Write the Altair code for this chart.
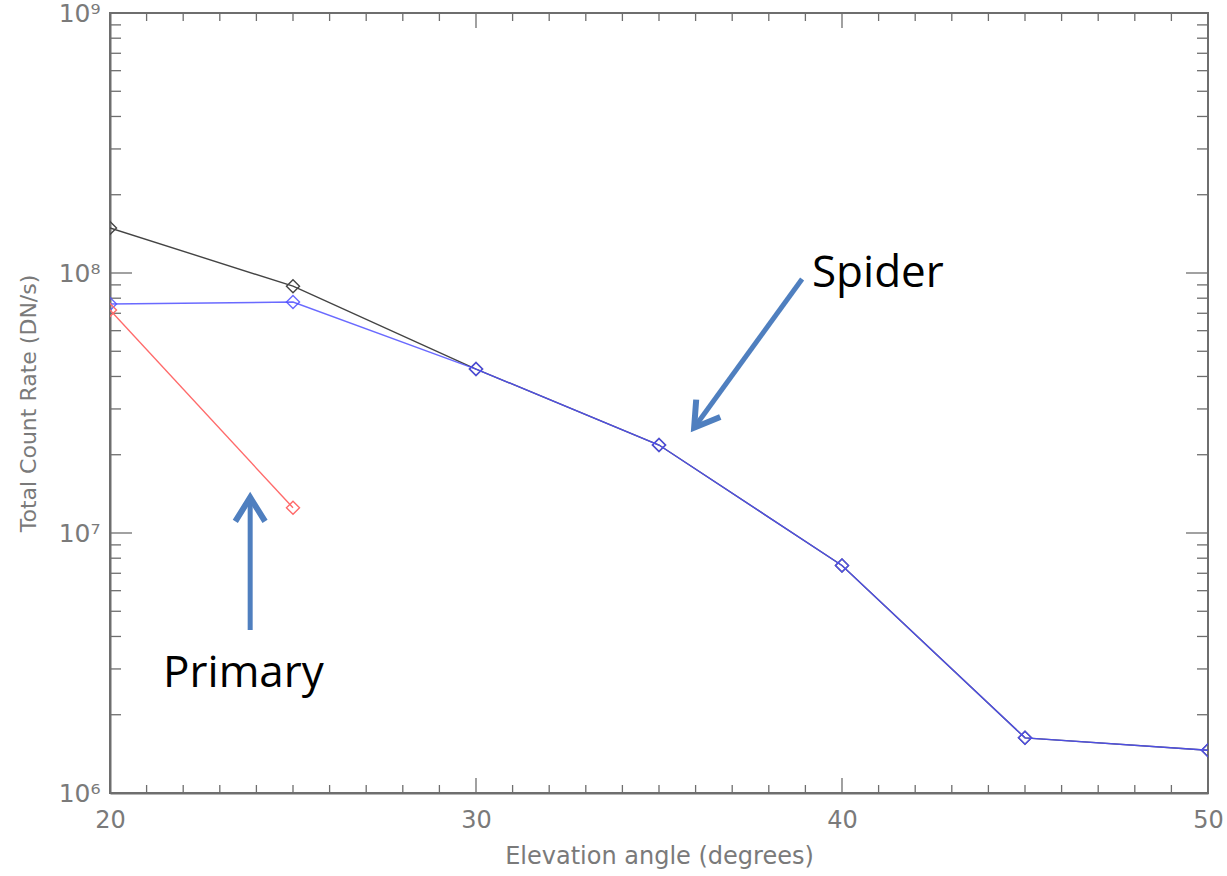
import altair as alt
import pandas as pd

# Count rate versus elevation angle
angles = [20, 25, 30, 35, 40, 45, 50]
total_rate = [1.49e8, 8.9e7, 4.27e7, 2.18e7, 7.5e6, 1.63e6, 1.46e6]
spider_rate = [7.6e7, 7.73e7, 4.27e7, 2.18e7, 7.5e6, 1.63e6, 1.46e6]
primary_angles = [20, 25]
primary_rate = [7.2e7, 1.25e7]

# Axis tick positions
x_major = [20, 30, 40, 50]
x_minor = [a for a in range(21, 50) if a % 10 != 0]
y_major = [1e6, 1e7, 1e8, 1e9]
y_minor = [k * 10.0 ** n for n in (6, 7, 8) for k in range(2, 10)]

# Annotation arrows and labels
arrow_shafts = pd.DataFrame({
    "angle": [23.83, 38.91], "rate": [4.24e6, 9.48e7],
    "angle2": [23.83, 35.96], "rate2": [1.37e7, 2.54e7],
})
arrow_heads = pd.DataFrame({"angle": [23.83, 35.96], "rate": [1.37e7, 2.54e7], "dir": [0, 216]})
notes = pd.DataFrame({"angle": [39.18, 21.45], "rate": [8.84e7, 2.56e6], "text": ["Spider", "Primary"]})

W, H = 1098, 780
AXIS_GREY = "#6e6e6e"
TEXT_GREY = "#7a7a7a"
FONT = "DejaVu Sans"

xscale = alt.Scale(domain=[20, 50], nice=False, zero=False)
yscale = alt.Scale(type="log", domain=[1e6, 1e9], nice=False)

x_axis = alt.Axis(values=x_major, ticks=False, grid=False, format="d",
                  title="Elevation angle (degrees)", labelFontSize=24,
                  labelPadding=15, titleFontSize=24, titlePadding=12,
                  labelFlush=False)
y_axis = alt.Axis(values=y_major, ticks=False, grid=False,
                  labelExpr="'10' + ['⁰','¹','²','³','⁴','⁵','⁶','⁷','⁸','⁹'][round(log(datum.value)/LN10)]",
                  title="Total Count Rate (DN/s)", labelFontSize=25,
                  labelPadding=10, titleFontSize=22, titlePadding=18,
                  labelFlush=False)


def X(field="angle"):
    return alt.X(f"{field}:Q", scale=xscale, axis=x_axis)


def Y(field="rate"):
    return alt.Y(f"{field}:Q", scale=yscale, axis=y_axis)


def series(xs, ys, color, opacity=1.0):
    df = pd.DataFrame({"angle": xs, "rate": ys})
    return alt.Chart(df).mark_line(
        color=color, strokeWidth=1.4, opacity=opacity, clip=True,
        point=alt.OverlayMarkDef(shape="diamond", filled=False, size=170,
                                 strokeWidth=1.4, color=color, opacity=opacity),
    ).encode(x=X(), y=Y())


total_line = series(angles, total_rate, "#444444")
spider_line = series(angles, spider_rate, "#5050ff", 0.85)
primary_line = series(primary_angles, primary_rate, "#ff6a6a")


def xticks(values, length):
    df = pd.DataFrame({"angle": values})
    bottom = alt.Chart(df).mark_rule(color=AXIS_GREY, strokeWidth=1.3).encode(
        x=X(), y=alt.value(H), y2=alt.value(H - length))
    top = alt.Chart(df).mark_rule(color=AXIS_GREY, strokeWidth=1.3).encode(
        x=X(), y=alt.value(0), y2=alt.value(length))
    return bottom + top


def yticks(values, length):
    df = pd.DataFrame({"rate": values})
    left = alt.Chart(df).mark_rule(color=AXIS_GREY, strokeWidth=1.3).encode(
        y=Y(), x=alt.value(0), x2=alt.value(length))
    right = alt.Chart(df).mark_rule(color=AXIS_GREY, strokeWidth=1.3).encode(
        y=Y(), x=alt.value(W), x2=alt.value(W - length))
    return left + right


ARROW = "#4f7fbf"
shafts = alt.Chart(arrow_shafts).mark_rule(color=ARROW, strokeWidth=5).encode(
    x=X(), y=Y(), x2="angle2:Q", y2="rate2:Q")
heads = alt.Chart(arrow_heads).mark_point(
    shape="M-0.62,1L0,0L0.62,1", filled=False, size=2300, color=ARROW,
    strokeWidth=6, strokeJoin="miter", opacity=1,
).encode(x=X(), y=Y(), angle=alt.Angle("dir:Q", scale=None))
labels = alt.Chart(notes).mark_text(
    font="Open Sans", fontSize=44, color="black", align="left", baseline="alphabetic"
).encode(x=X(), y=Y(), text="text:N")

chart = alt.layer(
    xticks(x_minor, 8), xticks(x_major, 15),
    yticks(y_minor, 11), yticks(y_major, 22),
    total_line, spider_line, primary_line,
    shafts, heads, labels,
).properties(
    width=W, height=H,
    autosize=alt.AutoSizeParams(type="none"),
    padding={"left": 110, "top": 13, "right": 19, "bottom": 83},
).configure_view(
    stroke=AXIS_GREY, strokeWidth=2
).configure_axis(
    domainColor=AXIS_GREY, domainWidth=2, labelColor=TEXT_GREY, titleColor=TEXT_GREY,
    labelFont=FONT, titleFont=FONT, labelFontWeight="normal", titleFontWeight="normal",
)

chart.save("out.html", embed_options={"renderer": "svg", "actions": False})
